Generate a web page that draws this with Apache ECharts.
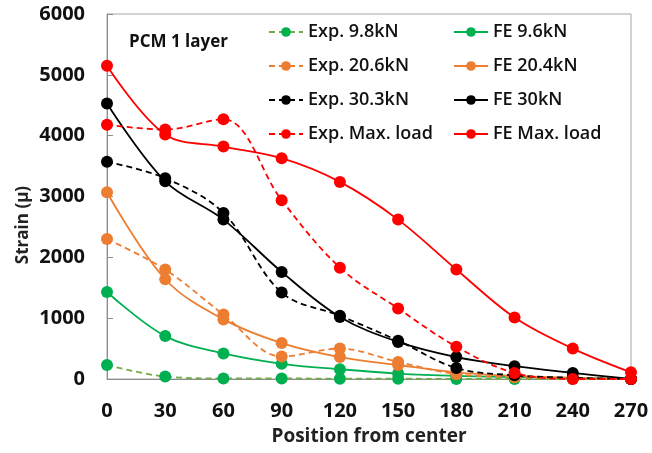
<!DOCTYPE html>
<html>
<head>
<meta charset="utf-8">
<script src="https://cdn.jsdelivr.net/npm/echarts@6/dist/echarts.min.js"></script>
<style>
html,body{margin:0;padding:0;background:#fff;}
#chart{width:652px;height:453px;}
</style>
</head>
<body>
<div id="chart"></div>
<script>
// Gauge positions from the centre
const positions = [0, 30, 60, 90, 120, 150, 180, 210, 240, 270];

// Measured strains
const exp98 = [230, 40, 10, 10, 5, 5, 0, 0, 0, 0];
const exp206 = [2300, 1800, 1060, 370, 500, 280, 80, 30, 10, 0];
const exp303 = [3570, 3300, 2730, 1420, 1040, 630, 180, 60, 20, 0];
const expMax = [4180, 4100, 4270, 2940, 1830, 1160, 530, 100, 0, 0];

// Finite element strains
const fe96 = [1430, 705, 420, 250, 160, 90, 50, 30, 15, 0];
const fe204 = [3070, 1640, 980, 590, 360, 230, 110, 50, 20, 0];
const fe30 = [4530, 3250, 2620, 1760, 1020, 610, 360, 210, 100, 0];
const feMax = [5150, 4020, 3820, 3630, 3240, 2620, 1800, 1010, 500, 110];

const xTicks = [0, 30, 60, 90, 120, 150, 180, 210, 240, 270];
const yTicks = [0, 1000, 2000, 3000, 4000, 5000, 6000];

const pairs = v => positions.map((p, i) => [p, v[i]]);

function series(name, values, lineColor, markColor, dashed, z) {
  return {
    name: name,
    type: 'line',
    data: pairs(values),
    smooth: 0.35,
    symbol: 'circle',
    symbolSize: 12,
    showAllSymbol: true,
    z: z,
    lineStyle: { color: lineColor, width: 1.8, type: dashed ? [6, 4] : 'solid' },
    itemStyle: { color: markColor, borderColor: markColor, borderWidth: 0 },
    emphasis: { disabled: true }
  };
}

const chart = echarts.init(document.getElementById('chart'), null, { renderer: 'canvas' });
const font = 'Open Sans, Noto Sans, sans-serif';

const legendText = { fontFamily: font, fontSize: 18, fontWeight: 600, color: '#111', padding: 0 };

chart.setOption({
  animation: false,
  backgroundColor: '#fff',
  grid: { left: 107, right: 21, top: 14, bottom: 74, show: true, borderColor: '#a6a6a6', borderWidth: 1 },
  xAxis: {
    type: 'value', min: 0, max: 270, interval: 30,
    name: 'Position from center', nameLocation: 'middle', nameGap: 48,
    nameTextStyle: { fontFamily: font, fontWeight: 'bold', fontSize: 19, color: '#222' },
    axisLine: { show: true, lineStyle: { color: '#8c8c8c' } },
    axisTick: { show: false },
    splitLine: { show: false },
    axisLabel: { fontFamily: font, fontWeight: 'bold', fontSize: 20, color: '#111', margin: 22,
      formatter: v => xTicks.includes(v) ? String(v) : '' }
  },
  yAxis: {
    type: 'value', min: 0, max: 6000, interval: 1000,
    axisLine: { show: true, lineStyle: { color: '#8c8c8c' } },
    axisTick: { show: true, inside: true, length: 6, lineStyle: { color: '#8c8c8c' } },
    splitLine: { show: false },
    axisLabel: { fontFamily: font, fontWeight: 'bold', fontSize: 20, color: '#111', margin: 22,
      formatter: v => yTicks.includes(v) ? String(v) : '' }
  },
  legend: [
    {
      data: ['Exp. 9.8kN', 'Exp. 20.6kN', 'Exp. 30.3kN', 'Exp. Max. load'],
      orient: 'vertical', left: 263, top: 18, itemGap: 16, itemWidth: 34, itemHeight: 12,
      textStyle: legendText
    },
    {
      data: ['FE 9.6kN', 'FE 20.4kN', 'FE 30kN', 'FE Max. load'],
      orient: 'vertical', left: 448, top: 18, itemGap: 16, itemWidth: 34, itemHeight: 12,
      textStyle: legendText
    }
  ],
  graphic: [
    {
      type: 'text', left: 129, top: 34,
      style: { text: 'PCM 1 layer', font: 'bold 17px ' + font, fill: '#111' }
    },
    {
      // vertical axis title
      type: 'text', x: 23, y: 225, rotation: Math.PI / 2,
      style: { text: 'Strain (μ)', font: 'bold 17px ' + font, fill: '#222', align: 'center', verticalAlign: 'middle' }
    }
  ],
  series: [
    series('Exp. 9.8kN', exp98, '#70ad47', '#00b050', true, 2),
    series('Exp. 20.6kN', exp206, '#ed7d31', '#ed7d31', true, 3),
    series('Exp. 30.3kN', exp303, '#000', '#000', true, 4),
    series('Exp. Max. load', expMax, '#ff0000', '#ff0000', true, 5),
    series('FE 9.6kN', fe96, '#00b050', '#00b050', false, 2),
    series('FE 20.4kN', fe204, '#ed7d31', '#ed7d31', false, 3),
    series('FE 30kN', fe30, '#000', '#000', false, 4),
    series('FE Max. load', feMax, '#ff0000', '#ff0000', false, 5)
  ]
});
</script>
</body>
</html>
